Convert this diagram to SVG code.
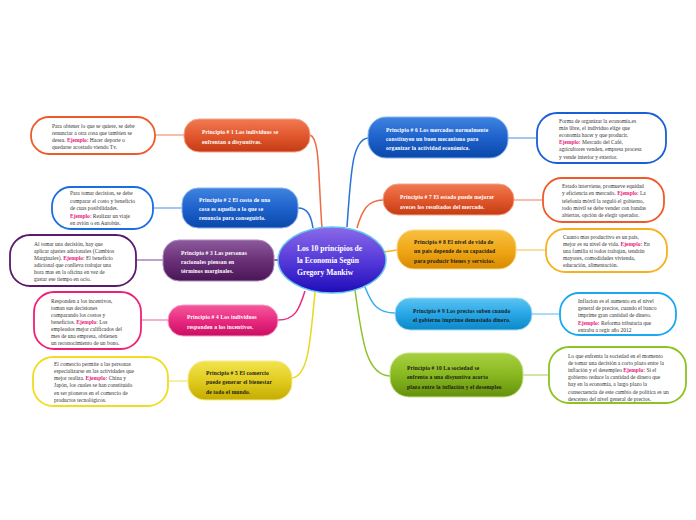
<svg xmlns="http://www.w3.org/2000/svg" width="696" height="520" viewBox="0 0 696 520">
<defs>
<linearGradient id="gC" x1="0" y1="0" x2="0" y2="1"><stop offset="0" stop-color="#8a6ae8"/><stop offset="0.55" stop-color="#5236d8"/><stop offset="1" stop-color="#1e0cb8"/></linearGradient>
<linearGradient id="gOr" x1="0" y1="0" x2="0" y2="1"><stop offset="0" stop-color="#f07a52"/><stop offset="0.5" stop-color="#e2582e"/><stop offset="1" stop-color="#c43c14"/></linearGradient>
<linearGradient id="gBl" x1="0" y1="0" x2="0" y2="1"><stop offset="0" stop-color="#3f84e0"/><stop offset="0.5" stop-color="#1e62cc"/><stop offset="1" stop-color="#0a48aa"/></linearGradient>
<linearGradient id="gPu" x1="0" y1="0" x2="0" y2="1"><stop offset="0" stop-color="#8c5a9c"/><stop offset="0.5" stop-color="#6a3078"/><stop offset="1" stop-color="#4a1656"/></linearGradient>
<linearGradient id="gPk" x1="0" y1="0" x2="0" y2="1"><stop offset="0" stop-color="#f45a9c"/><stop offset="0.5" stop-color="#e82a80"/><stop offset="1" stop-color="#c80e62"/></linearGradient>
<linearGradient id="gYe" x1="0" y1="0" x2="0" y2="1"><stop offset="0" stop-color="#f2e450"/><stop offset="0.5" stop-color="#e2cc20"/><stop offset="1" stop-color="#c4ac00"/></linearGradient>
<linearGradient id="gAm" x1="0" y1="0" x2="0" y2="1"><stop offset="0" stop-color="#f8c040"/><stop offset="0.5" stop-color="#f0a818"/><stop offset="1" stop-color="#d88a00"/></linearGradient>
<linearGradient id="gLb" x1="0" y1="0" x2="0" y2="1"><stop offset="0" stop-color="#5cc4f2"/><stop offset="0.5" stop-color="#28a6e6"/><stop offset="1" stop-color="#0c88c8"/></linearGradient>
<linearGradient id="gGr" x1="0" y1="0" x2="0" y2="1"><stop offset="0" stop-color="#a8d040"/><stop offset="0.5" stop-color="#88b820"/><stop offset="1" stop-color="#64900c"/></linearGradient>
</defs>
<style>
.pt{font-family:"Liberation Serif","Times New Roman",serif;font-weight:bold;font-size:5.5px;letter-spacing:0.15px;fill:#ffffff}
.pt.dk{fill:#1a1a1a}
.ct{font-family:"Liberation Serif","Times New Roman",serif;font-size:5.5px;fill:#333333}
.ej{fill:#e8207a;font-weight:bold}
.mt{font-family:"Liberation Serif","Times New Roman",serif;font-weight:bold;font-size:7.6px;fill:#ffffff}
.ch{fill:#ffffff;stroke-width:1.8}
.pn{stroke-width:1}
.cn{fill:none;stroke-width:1.5}
.lk{fill:none;stroke-width:1.8}
</style>
<rect width="696" height="520" fill="#ffffff"/>
<g id="connectors">
<path class="cn" stroke="#ee6a44" d="M322,228 C318,175 320,138 310,135"/>
<path class="cn" stroke="#2a72d8" d="M313,228 C311,216 308,208 298,208"/>
<path class="cn" stroke="#6a3078" d="M279,260 L274,260"/>
<path class="cn" stroke="#ee2a82" d="M305,291 C299,310 295,320 278,320"/>
<path class="cn" stroke="#e8d820" d="M315,292 C310,345 308,376 292,378"/>
<path class="cn" stroke="#2a72d8" d="M347,227 C351,172 352,140 368,138"/>
<path class="cn" stroke="#ee6a44" d="M357,228 C362,210 368,200 383,200"/>
<path class="cn" stroke="#f5b030" d="M384,252 L397,250"/>
<path class="cn" stroke="#34b0ee" d="M365,287 C372,305 378,313 395,313"/>
<path class="cn" stroke="#8cc32a" d="M355,290 C362,340 366,375 390,376"/>
<path class="lk" stroke="#f6b8a2" d="M155,135 L184,135"/>
<path class="lk" stroke="#9cc0f0" d="M153,208 L182,208"/>
<path class="lk" stroke="#b898c4" d="M136,260 L163,260"/>
<path class="lk" stroke="#f6a6c8" d="M141,320 L168,320"/>
<path class="lk" stroke="#f4ec9a" d="M168,381 L188,381"/>
<path class="lk" stroke="#9cc0f0" d="M508,138 L537,138"/>
<path class="lk" stroke="#f6b8a2" d="M514,200 L543,200"/>
<path class="lk" stroke="#f8dc98" d="M516,250 L546,250"/>
<path class="lk" stroke="#a2d8f6" d="M532,314 L560,314"/>
<path class="lk" stroke="#cce49c" d="M523,375 L549,375"/>
</g>
<g id="center">
<ellipse cx="332" cy="260" rx="54" ry="33" fill="url(#gC)" stroke="#62c4ee" stroke-width="1.5"/>
<text class="mt" x="297" y="251">Los 10 principios de</text>
<text class="mt" x="297" y="263">la Economia Según</text>
<text class="mt" x="297" y="275">Gregory Mankiw</text>
</g>
<g id="p1">
<rect class="pn" x="184" y="119" width="126" height="33" rx="15" fill="url(#gOr)" stroke="#f6a488"/>
<text class="pt" x="202" y="134">Principio # 1 Los individuos se</text>
<text class="pt" x="202" y="144">enfrentan a disyuntivas.</text>
</g>
<g id="p2">
<rect class="pn" x="182" y="188" width="116" height="40" rx="16" fill="url(#gBl)" stroke="#8ab4ee"/>
<text class="pt" x="199" y="202">Principio # 2 El costo de una</text>
<text class="pt" x="199" y="211">cosa es aquello a lo que se</text>
<text class="pt" x="199" y="220">renuncia para conseguirlo.</text>
</g>
<g id="p3">
<rect class="pn" x="163" y="240" width="111" height="41" rx="16" fill="url(#gPu)" stroke="#b08cc0"/>
<text class="pt" x="181" y="255">Principio # 3 Las personas</text>
<text class="pt" x="181" y="264">racionales piensan en</text>
<text class="pt" x="181" y="273">términos marginales.</text>
</g>
<g id="p4">
<rect class="pn" x="168" y="305" width="110" height="31" rx="15" fill="url(#gPk)" stroke="#f79cc4"/>
<text class="pt" x="187" y="319">Principio # 4 Los individuos</text>
<text class="pt" x="187" y="329">responden a los incentivos.</text>
</g>
<g id="p5">
<rect class="pn" x="188" y="361" width="104" height="39" rx="17" fill="url(#gYe)" stroke="#f4ec90"/>
<text class="pt dk" x="206" y="375">Principio # 5 El comercio</text>
<text class="pt dk" x="206" y="384">puede generar el bienestar</text>
<text class="pt dk" x="206" y="394">de todo el mundo.</text>
</g>
<g id="p6">
<rect class="pn" x="368" y="117" width="140" height="41" rx="18" fill="url(#gBl)" stroke="#8ab4ee"/>
<text class="pt" x="386" y="132">Principio # 6 Los mercados normalmente</text>
<text class="pt" x="386" y="141">constituyen un buen mecanismo para</text>
<text class="pt" x="386" y="150">organizar la actividad económica.</text>
</g>
<g id="p7">
<rect class="pn" x="383" y="184" width="131" height="31" rx="15" fill="url(#gOr)" stroke="#f6a488"/>
<text class="pt" x="400" y="199">Principio # 7 El estado puede mejorar</text>
<text class="pt" x="400" y="209">aveces los resultados del mercado.</text>
</g>
<g id="p8">
<rect class="pn" x="397" y="230" width="119" height="39" rx="17" fill="url(#gAm)" stroke="#f9d888"/>
<text class="pt dk" x="414" y="244">Principio # 8 El nivel de vida de</text>
<text class="pt dk" x="414" y="253">un país depende de su capacidad</text>
<text class="pt dk" x="414" y="263">para producir bienes y servicios.</text>
</g>
<g id="p9">
<rect class="pn" x="395" y="298" width="137" height="32" rx="15" fill="url(#gLb)" stroke="#a2dcf6"/>
<text class="pt dk" x="413" y="313">Principio # 9 Los precios suben cuando</text>
<text class="pt dk" x="413" y="322">el gobierno imprime demasiado dinero.</text>
</g>
<g id="p10">
<rect class="pn" x="390" y="353" width="133" height="44" rx="19" fill="url(#gGr)" stroke="#c8e28c"/>
<text class="pt dk" x="407" y="370">Principio # 10 La sociedad se</text>
<text class="pt dk" x="407" y="379">enfrenta a una disyuntiva acorto</text>
<text class="pt dk" x="407" y="389">plazo entre la inflación y el desempleo</text>
</g>
<g id="c1">
<rect class="ch" x="31" y="117" width="124" height="37" rx="18" stroke="#f05a28"/>
<text class="ct" x="52" y="128">Para obtener lo que se quiere, se debe</text>
<text class="ct" x="52" y="135">renunciar a otra cosa que tambien se</text>
<text class="ct" x="52" y="142">desea. <tspan class="ej">Ejemplo</tspan>: Hacer deporte o</text>
<text class="ct" x="52" y="149">quedarse acostado viendo Tv.</text>
</g>
<g id="c2">
<rect class="ch" x="52" y="187" width="101" height="42" rx="19" stroke="#1a6ee0"/>
<text class="ct" x="70" y="195">Para tomar decision, se debe</text>
<text class="ct" x="70" y="203">comparar el costo y beneficio</text>
<text class="ct" x="70" y="210">de cuas posibilidades.</text>
<text class="ct" x="70" y="218"><tspan class="ej">Ejemplo</tspan>: Realizar un viaje</text>
<text class="ct" x="70" y="225">en avión o en Autobús.</text>
</g>
<g id="c3">
<rect class="ch" x="10" y="235" width="126" height="51" rx="20" stroke="#5a1a6e"/>
<text class="ct" x="34" y="246">Al tomar una decisión, hay que</text>
<text class="ct" x="34" y="253">aplicar ajustes adicionales (Cambios</text>
<text class="ct" x="34" y="260">Marginales). <tspan class="ej">Ejemplo</tspan>: El beneficio</text>
<text class="ct" x="34" y="267">adicional que conlleva trabajar una</text>
<text class="ct" x="34" y="274">hora mas en la oficina en vez de</text>
<text class="ct" x="34" y="281">gastar ese tiempo en ocio.</text>
</g>
<g id="c4">
<rect class="ch" x="34" y="292" width="107" height="57" rx="20" stroke="#f0207a"/>
<text class="ct" x="51" y="303">Responden a los incentivos,</text>
<text class="ct" x="51" y="310">toman sus decisiones</text>
<text class="ct" x="51" y="317">comparando los costos y</text>
<text class="ct" x="51" y="324">beneficios. <tspan class="ej">Ejemplo</tspan>: Los</text>
<text class="ct" x="51" y="331">empleados mejor calificados del</text>
<text class="ct" x="51" y="338">mes de una empresa, obtienen</text>
<text class="ct" x="51" y="345">un reconocimiento de un bono.</text>
</g>
<g id="c5">
<rect class="ch" x="33" y="357" width="135" height="49" rx="20" stroke="#f0dc20"/>
<text class="ct" x="54" y="366">El comercio permite a las personas</text>
<text class="ct" x="54" y="373">especializarse en las actividades que</text>
<text class="ct" x="54" y="380">mejor realiza. <tspan class="ej">Ejemplo:</tspan> China y</text>
<text class="ct" x="54" y="387">Japón, los cuales se han constituido</text>
<text class="ct" x="54" y="395">en ser pioneros en el comercio de</text>
<text class="ct" x="54" y="402">productos tecnológicos.</text>
</g>
<g id="c6">
<rect class="ch" x="537" y="113" width="129" height="50" rx="20" stroke="#1a5fd8"/>
<text class="ct" x="559" y="123">Forma de organizar la economía,es</text>
<text class="ct" x="559" y="130">más libre, el individuo elige que</text>
<text class="ct" x="559" y="137">economía hacer y que producir.</text>
<text class="ct" x="559" y="144"><tspan class="ej">Ejemplo:</tspan> Mercado del Café,</text>
<text class="ct" x="559" y="151">agricultores venden, empresa procesa</text>
<text class="ct" x="559" y="159">y vende interior y exterior.</text>
</g>
<g id="c7">
<rect class="ch" x="543" y="178" width="121" height="44" rx="19" stroke="#f05a28"/>
<text class="ct" x="562" y="188">Estado interviene, promueve equidad</text>
<text class="ct" x="562" y="195">y eficiencia en mercado. <tspan class="ej">Ejemplo</tspan>: La</text>
<text class="ct" x="562" y="203">telefonía móvil la reguló el gobierno,</text>
<text class="ct" x="562" y="210">todo móvil se debe vender con bandas</text>
<text class="ct" x="562" y="217">abiertas, opción de elegir operador.</text>
</g>
<g id="c8">
<rect class="ch" x="546" y="229" width="121" height="43" rx="19" stroke="#f8b020"/>
<text class="ct" x="563" y="239">Cuanto mas productivo es un país,</text>
<text class="ct" x="563" y="246">mejor es su nivel de vida. <tspan class="ej">Ejemplo:</tspan> En</text>
<text class="ct" x="563" y="253">una familia si todos trabajan, tendrán</text>
<text class="ct" x="563" y="260">mayores, comodidades vivienda,</text>
<text class="ct" x="563" y="267">educación, alimentación.</text>
</g>
<g id="c9">
<rect class="ch" x="560" y="293" width="116" height="42" rx="19" stroke="#1aa8f0"/>
<text class="ct" x="578" y="303">Inflacion es el aumento en el nivel</text>
<text class="ct" x="578" y="310">general de precios, cuando el banco</text>
<text class="ct" x="578" y="317">imprime  gran cantidad de dinero.</text>
<text class="ct" x="578" y="325"><tspan class="ej">Ejemplo:</tspan> Reforma tributaria que</text>
<text class="ct" x="578" y="332">entraba a regir año 2012</text>
</g>
<g id="c10">
<rect class="ch" x="549" y="347" width="137" height="56" rx="20" stroke="#8cc320"/>
<text class="ct" x="568" y="358">Lo que enfrenta la sociedad en el momento</text>
<text class="ct" x="568" y="365">de tomar una decisión a corto plazo entre la</text>
<text class="ct" x="568" y="372">inflación y el desempleo <tspan class="ej">Ejemplo:</tspan> Si el</text>
<text class="ct" x="568" y="379">gobierno reduce la cantidad de dinero que</text>
<text class="ct" x="568" y="386">hay en la economía, a largo plazo la</text>
<text class="ct" x="568" y="394">consecuencia de este cambio de política es un</text>
<text class="ct" x="568" y="401">descenso del nivel general de precios.</text>
</g>
</svg>
